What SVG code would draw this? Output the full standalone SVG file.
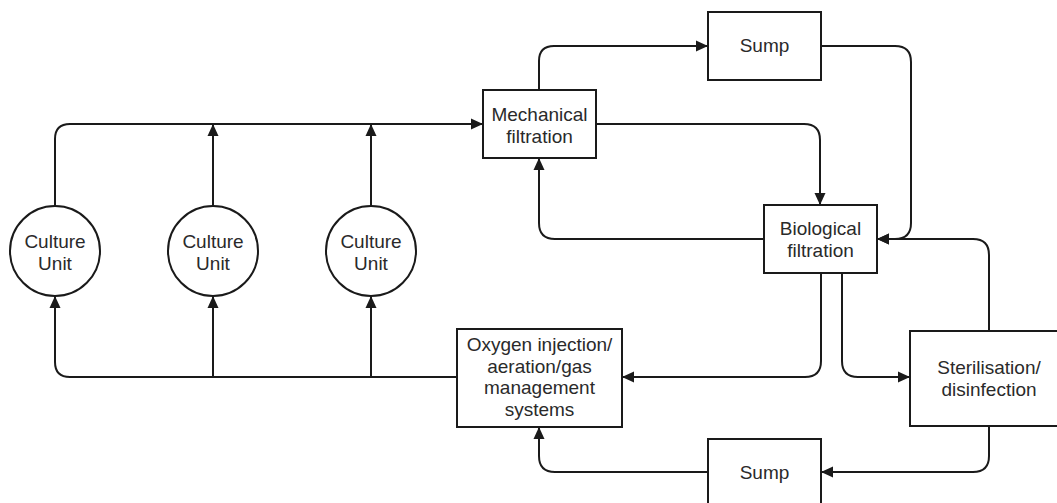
<svg xmlns="http://www.w3.org/2000/svg" width="1057" height="503" viewBox="0 0 1057 503">
<defs>
<marker id="ah" markerUnits="userSpaceOnUse" markerWidth="13" markerHeight="12" refX="12" refY="6" orient="auto">
<path d="M0,0.5 L12,6 L0,11.5 z" fill="#1a1a1a"/>
</marker>
<style>
.n{fill:#fff;stroke:#1a1a1a;stroke-width:2}
.c{fill:none;stroke:#1a1a1a;stroke-width:2;marker-end:url(#ah)}
text{font-family:"Liberation Sans",Arial,sans-serif;font-size:19px;fill:#2a2a2a;text-anchor:middle}
</style>
</defs>
<rect width="1057" height="503" fill="#fff"/>
<g id="connectors">
<path class="c" d="M55,206 V139 Q55,124 70,124 H483"/>
<path class="c" d="M213,206 V124"/>
<path class="c" d="M371,206 V124"/>
<path class="c" d="M457,377 H70 Q55,377 55,362 V296"/>
<path class="c" d="M213,377 V296"/>
<path class="c" d="M371,377 V296"/>
<path class="c" d="M539,90 V61 Q539,46 554,46 H708"/>
<path class="c" d="M596,124 H804 Q820,124 820,140 V205"/>
<path class="c" d="M821,46 H895 Q911,46 911,62 V223 Q911,239 895,239 H877"/>
<path class="c" d="M764,239 H555 Q539,239 539,223 V158"/>
<path class="c" d="M989,331 V255 Q989,239 973,239 H877"/>
<path class="c" d="M821,273 V361 Q821,377 805,377 H622"/>
<path class="c" d="M842,273 V361 Q842,377 858,377 H910"/>
<path class="c" d="M989,426 V456 Q989,472 973,472 H821"/>
<path class="c" d="M708,472 H555 Q539,472 539,456 V427"/>
</g>
<g id="culture1"><circle class="n" cx="55" cy="251" r="45"/><text x="55" y="248">Culture</text><text x="55" y="270">Unit</text></g>
<g id="culture2"><circle class="n" cx="213" cy="251" r="45"/><text x="213" y="248">Culture</text><text x="213" y="270">Unit</text></g>
<g id="culture3"><circle class="n" cx="371" cy="251" r="45"/><text x="371" y="248">Culture</text><text x="371" y="270">Unit</text></g>
<g id="mechanical"><rect class="n" x="483" y="90" width="113" height="68"/><text x="539.5" y="121">Mechanical</text><text x="539.5" y="143">filtration</text></g>
<g id="sump-top"><rect class="n" x="708" y="12" width="113" height="68"/><text x="764.5" y="52">Sump</text></g>
<g id="biological"><rect class="n" x="764" y="205" width="113" height="68"/><text x="820.5" y="235">Biological</text><text x="820.5" y="257">filtration</text></g>
<g id="oxygen"><rect class="n" x="457" y="329" width="165" height="98"/><text x="539.5" y="351">Oxygen injection/</text><text x="539.5" y="373">aeration/gas</text><text x="539.5" y="394">management</text><text x="539.5" y="416">systems</text></g>
<g id="sterilisation"><rect class="n" x="910" y="331" width="158" height="95"/><text x="989" y="374">Sterilisation/</text><text x="989" y="396">disinfection</text></g>
<g id="sump-bottom"><rect class="n" x="708" y="439" width="113" height="68"/><text x="764.5" y="479">Sump</text></g>
</svg>
